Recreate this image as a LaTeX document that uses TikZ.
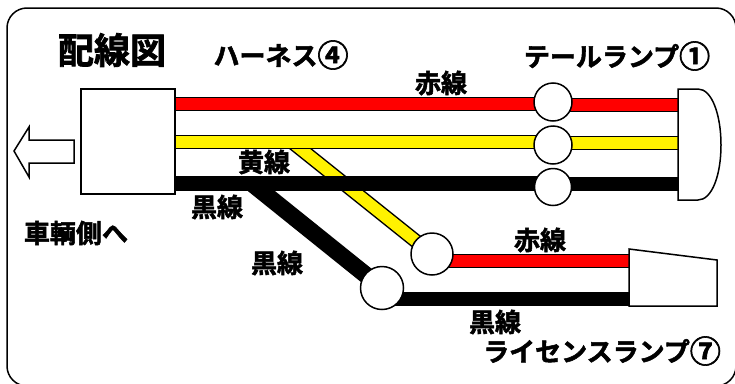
\documentclass[tikz,border=0pt]{standalone}
\usepackage{fontspec}
\usepackage{tikz}
\usetikzlibrary{
    positioning,
    backgrounds
}
\newfontfamily\cjk{Noto Sans CJK JP}[BoldFont={Noto Sans CJK JP Bold}, BoldFeatures={FakeBold=2}]
\newcommand{\circnum}[1]{{\fontsize{31}{30}\selectfont\raisebox{-1.5pt}{#1}}}
\tikzset{
    part/.style={draw, fill=white, line width=1.5pt},
    joint/.style={part, circle, inner sep=0pt, minimum size=#1},
    wire/.style={draw=black, line width=1.5pt, double=#1, double distance=11.5pt},
    blackwire/.style={draw=black, line width=14.5pt},
    label/.style={font=\cjk\bfseries\fontsize{26}{30}\selectfont, inner sep=0pt}
}
\begin{document}
\begin{tikzpicture}[x=1pt, y=-1pt]
    \useasboundingbox (0, 0) rectangle (735, 383);
    \draw[line width=1.5pt, rounded corners=20pt] (7, 8) rectangle (736, 386);
    % parts
    \node[part, rectangle, minimum width=94pt, minimum height=105pt, inner sep=0pt] (conn) at (128, 141.5) {};
    \draw[part] (14, 151) -- (29, 127) -- (29, 140) -- (74, 140) -- (74, 163) -- (29, 163) -- (29, 177) -- cycle;
    \foreach \name/\x/\y/\size in {jointR/553/102/38, jointY/553/145/38, jointK/553/187/37, jointL/432/254/42, jointM/382/288/43} {
        \node[joint=\size pt] (\name) at (\x, \y) {};
    }
    \draw[part] (678, 89) -- (698, 89) .. controls (712, 89) and (721, 115) .. (721, 145) .. controls (721, 175) and (712, 200) .. (698, 200) -- (678, 200) -- cycle;
    \draw[part] (629, 249) -- (717, 260) -- (717, 306) -- (629, 306) -- cycle;
    \coordinate (lampR) at (678, 105);
    \coordinate (lampY) at (678, 143);
    \coordinate (lampK) at (678, 184);
    \coordinate (plateR) at (629, 261);
    \coordinate (plateK) at (629, 299);
    \coordinate (forkY) at (292, 142);
    \coordinate (forkK) at (252, 183.5);
    % wires
    \begin{scope}[on background layer]
        \path[wire=yellow] (forkY) -- (jointL.center);
        \path[blackwire, line width=17pt] (forkK) -- (jointM.center);
        \path[wire=red] (conn.east |- 0, 104) -- (jointR.center |- 0, 104);
        \path[wire=yellow] (conn.east |- 0, 142) -- (jointY.center |- 0, 142);
        \path[blackwire] (conn.east |- 0, 183.5) -- (jointK.center |- 0, 183.5);
        \path[wire=red] (jointR.center |- lampR) -- (lampR);
        \path[wire=yellow] (jointY.center |- lampY) -- (lampY);
        \path[blackwire] (jointK.center |- lampK) -- (lampK);
        \path[wire=red] (jointL.center |- plateR) -- (plateR);
        \path[blackwire] (jointM.center |- plateK) -- (plateK);
    \end{scope}
    % labels
    \node[label, font=\cjk\bfseries\fontsize{36}{40}\selectfont] (title) at (112, 50) {配線図};
    \node[label] (harness) at (281, 55) {ハーネス\circnum{④}};
    \node[label] (tail) at (617, 56) {テールランプ\circnum{①}};
    \node[label] (red1) at (441, 83) {赤線};
    \node[label] (yellow1) at (264, 162) {黄線};
    \node[label] (black1) at (217, 207) {黒線};
    \node[label] (black2) at (277, 263) {黒線};
    \node[label] (side) at (76, 233) {車輌側へ};
    \node[label] (red2) at (540, 240) {赤線};
    \node[label] (black3) at (495, 322) {黒線};
    \node[label] (plate) at (602, 351) {ライセンスランプ\circnum{⑦}};
\end{tikzpicture}
\end{document}
